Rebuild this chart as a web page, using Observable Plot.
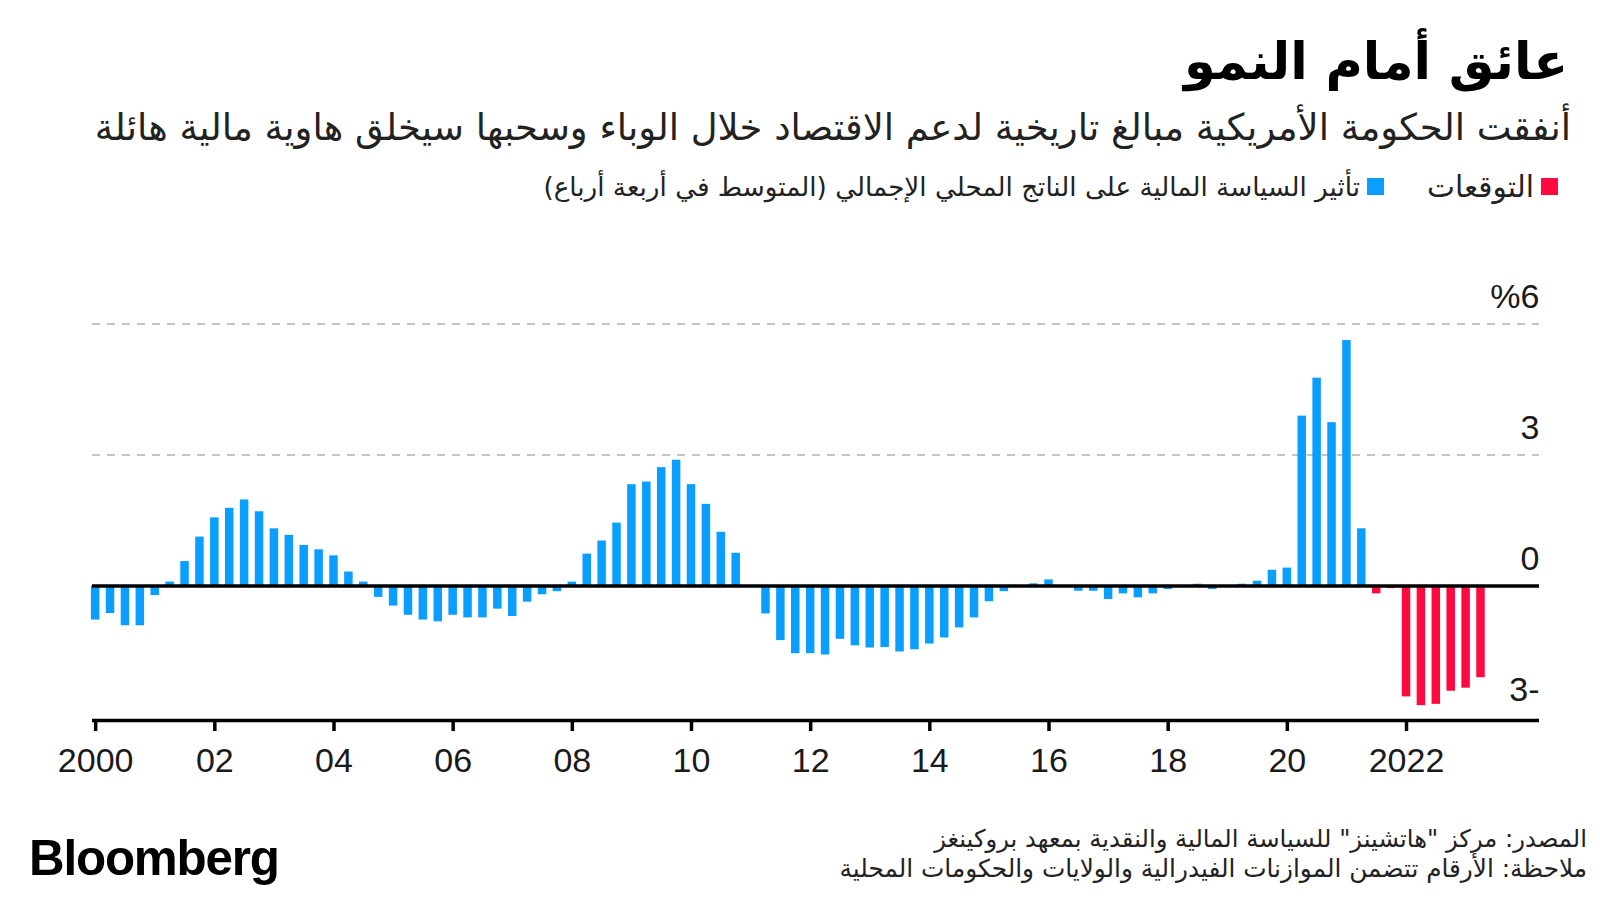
<!DOCTYPE html>
<html><head><meta charset="utf-8">
<script src="https://cdn.jsdelivr.net/npm/d3@7"></script>
<script src="https://cdn.jsdelivr.net/npm/@observablehq/plot@0.6"></script>
<style>
body{margin:0;background:#fff;width:1600px;height:900px;position:relative;overflow:hidden;font-family:"DejaVu Sans",sans-serif;color:#111}
.t{position:absolute;white-space:nowrap;direction:rtl;line-height:1;transform:translateY(-50%)}
.sw{position:absolute;width:17px;height:17px}
#chart{position:absolute;left:0;top:240px}
#logo{position:absolute;left:29px;top:858px;transform:translateY(-50%);font-family:"Liberation Sans",Arial,sans-serif;font-weight:bold;font-size:46px;letter-spacing:-1.2px;line-height:1;color:#000}
</style></head><body>
<div id="title" class="t" style="right:32px;top:62px;font-weight:bold;font-size:52px;color:#000">عائق أمام النمو</div>
<div id="subtitle" class="t" style="right:29px;top:128px;font-size:30px;color:#222">أنفقت الحكومة الأمريكية مبالغ تاريخية لدعم الاقتصاد خلال الوباء وسحبها سيخلق هاوية مالية هائلة</div>
<div class="sw" style="left:1541px;top:178px;background:#ff0a40"></div>
<div id="lg1" class="t" style="right:66px;top:187px;font-size:22px;color:#222">التوقعات</div>
<div class="sw" style="left:1367px;top:178px;background:#0a9eff"></div>
<div id="lg2" class="t" style="right:240px;top:187px;font-size:22px;color:#222">تأثير السياسة المالية على الناتج المحلي الإجمالي (المتوسط في أربعة أرباع)</div>
<div id="chart"></div>
<div id="logo">Bloomberg</div>
<div id="src1" class="t" style="right:13px;top:839px;font-size:22px;color:#222">المصدر: مركز "هاتشينز" للسياسة المالية والنقدية بمعهد بروكينغز</div>
<div id="src2" class="t" style="right:13px;top:869px;font-size:22px;color:#222">ملاحظة: الأرقام تتضمن الموازنات الفيدرالية والولايات والحكومات المحلية</div>
<script>
// ---- data ----
const startYear = 2000;          // first quarter: 2000 Q1
const forecastStart = 2021.5;    // forecasts start: 2021 Q3
const fiscalImpact = [
  -0.78, -0.63, -0.91, -0.91,
  -0.22, 0.09, 0.56, 1.12,
  1.56, 1.78, 1.97, 1.70,
  1.31, 1.16, 0.93, 0.83,
  0.69, 0.32, 0.09, -0.26,
  -0.46, -0.67, -0.78, -0.82,
  -0.67, -0.73, -0.73, -0.53,
  -0.70, -0.37, -0.20, -0.13,
  0.09, 0.73, 1.03, 1.44,
  2.32, 2.38, 2.71, 2.88,
  2.32, 1.87, 1.23, 0.75,
  0.00, -0.64, -1.25, -1.55,
  -1.55, -1.58, -1.22, -1.37,
  -1.42, -1.41, -1.51, -1.46,
  -1.33, -1.19, -0.96, -0.73,
  -0.36, -0.13, 0.00, 0.05,
  0.14, 0.00, -0.12, -0.12,
  -0.31, -0.18, -0.27, -0.18,
  -0.08, 0.00, 0.04, -0.08,
  0.00, 0.04, 0.11, 0.36,
  0.41, 3.89, 4.76, 3.74,
  5.62, 1.31
];
const forecast = [-0.18, -0.06, -2.54, -2.74, -2.71, -2.41, -2.34, -2.10];
const xTicks = [2000, 2002, 2004, 2006, 2008, 2010, 2012, 2014, 2016, 2018, 2020, 2022];
const xTickLabels = ["2000", "02", "04", "06", "08", "10", "12", "14", "16", "18", "20", "2022"];
const yTicks = [-3, 0, 3, 6];
const yTickLabels = ["3-", "0", "3", "%6"];
const seriesNames = ["hist", "forecast"];
const seriesColors = ["#0a9eff", "#ff0a40"];

// ---- build ----
const data = fiscalImpact.map((v, i) => ({t: startYear + i / 4, v, s: "hist"}))
  .concat(forecast.map((v, i) => ({t: forecastStart + i / 4, v, s: "forecast"})));
const xDomain = [1999.947, 2024.232];
const yDomain = [-3.08, 6];
const hw = 0.0713;

const chart = Plot.plot({
  width: 1600, height: 550,
  marginLeft: 92, marginRight: 61, marginTop: 83.5, marginBottom: 70,
  style: {fontFamily: "'Liberation Sans', Arial, sans-serif", background: "transparent", overflow: "visible", color: "#1a1a1a"},
  x: {type: "linear", domain: xDomain, axis: null},
  y: {domain: yDomain, axis: null},
  color: {domain: seriesNames, range: seriesColors},
  marks: [
    Plot.ruleY([3, 6], {stroke: "#8a8a8a", strokeWidth: 1.2, strokeDasharray: "8,7"}),
    Plot.rectY(data, {x1: d => d.t - hw, x2: d => d.t + hw, y1: 0, y2: "v", fill: "s"}),
    Plot.ruleY([0], {stroke: "#000", strokeWidth: 3.5}),
    Plot.ruleY([yDomain[0]], {stroke: "#000", strokeWidth: 3.5}),
    Plot.axisX(xTicks, {tickFormat: d => xTickLabels[xTicks.indexOf(d)], tickSize: 11, tickPadding: 16, fontSize: 34, strokeWidth: 3.5, stroke: "#000", label: null}),
    Plot.text(yTicks, {x: xDomain[1], y: d => d, text: d => yTickLabels[yTicks.indexOf(d)], textAnchor: "end", dy: -27, fontSize: 34, fill: "#1a1a1a"})
  ]
});
document.getElementById("chart").appendChild(chart);

function fit(id, w) {
  const el = document.getElementById(id);
  const fs = parseFloat(getComputedStyle(el).fontSize);
  const cw = el.getBoundingClientRect().width;
  el.style.fontSize = (fs * w / cw) + "px";
}
fit("title", 384);
fit("subtitle", 1477);
fit("lg1", 107);
fit("lg2", 817);
fit("src1", 653);
fit("src2", 748);
fit("logo", 249);
</script>
</body></html>
